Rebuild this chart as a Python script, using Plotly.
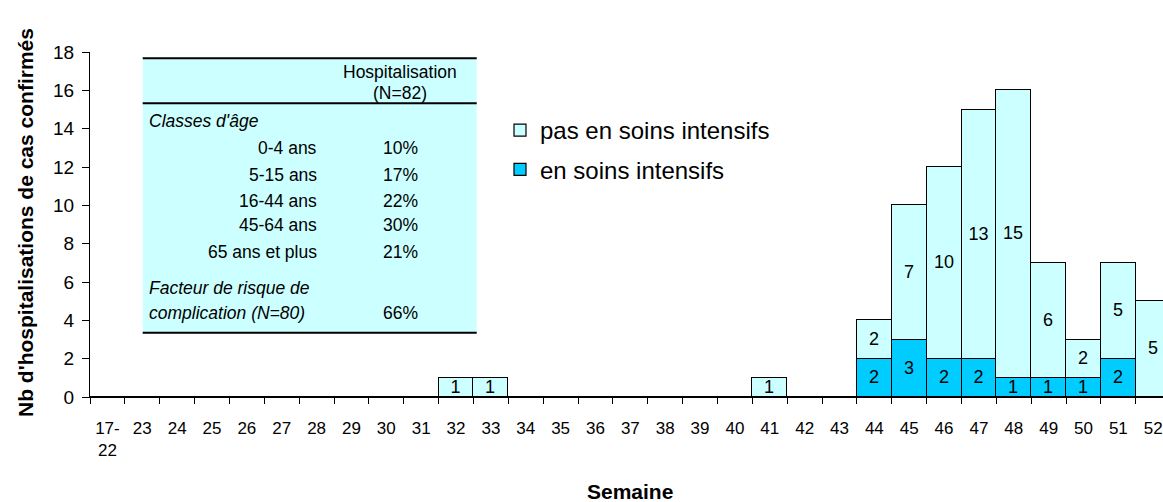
import plotly.graph_objects as go

# ---- data ----
weeks = ["17-<br>22"] + [str(w) for w in range(23, 53)]
soins_intensifs = {"44": 2, "45": 3, "46": 2, "47": 2, "48": 1, "49": 1, "50": 1, "51": 2}
pas_soins_intensifs = {"32": 1, "33": 1, "41": 1, "44": 2, "45": 7, "46": 10, "47": 13,
                       "48": 15, "49": 6, "50": 2, "51": 5, "52": 5}
si_values = [soins_intensifs.get(w, 0) for w in weeks]
psi_values = [pas_soins_intensifs.get(w, 0) for w in weeks]

age_classes = ["0-4 ans", "5-15 ans", "16-44 ans", "45-64 ans", "65 ans et plus"]
age_pct = ["10%", "17%", "22%", "30%", "21%"]
risk_label = ["Facteur de risque de", "complication (N=80)"]
risk_pct = "66%"

# ---- layout geometry (pixels) ----
W, H = 1163, 502
L, R, T, B = 90, 1163, 52, 397
PW, PH = R - L, B - T


def px_x(x):
    return (x - L) / PW


def px_y(y):
    return (B - y) / PH


FONT = "Liberation Sans, Arial, sans-serif"
LIGHT = "#CCFFFF"
DARK = "#00CCFF"

fig = go.Figure()
fig.add_trace(go.Bar(
    x=weeks, y=si_values, name="en soins intensifs",
    marker=dict(color=DARK, line=dict(color="black", width=1.2)),
    text=[str(v) if v else "" for v in si_values],
    textposition="inside", insidetextanchor="middle", textangle=0,
    textfont=dict(family=FONT, size=18, color="black"),
    legendgroup="b", legendrank=2, cliponaxis=True,
))
fig.add_trace(go.Bar(
    x=weeks, y=psi_values, name="pas en soins intensifs",
    marker=dict(color=LIGHT, line=dict(color="black", width=1.2)),
    text=[str(v) if v else "" for v in psi_values],
    textposition="inside", insidetextanchor="middle", textangle=0,
    textfont=dict(family=FONT, size=18, color="black"),
    legendgroup="a", legendrank=1, cliponaxis=True,
))

shapes = []
# table background and rules
tx0, tx1, ty0, ty1 = 142.7, 476.7, 58.3, 332.7
shapes.append(dict(type="rect", xref="paper", yref="paper",
                   x0=px_x(tx0), x1=px_x(tx1), y0=px_y(ty1), y1=px_y(ty0),
                   fillcolor=LIGHT, line=dict(width=0), layer="below"))
for yy in (ty0, 103.3, ty1):
    shapes.append(dict(type="line", xref="paper", yref="paper",
                       x0=px_x(tx0), x1=px_x(tx1), y0=px_y(yy), y1=px_y(yy),
                       line=dict(color="black", width=2)))

ann = []
tfont = dict(family=FONT, size=17.5, color="black")


def add_text(text, x, y, anchor="center", italic=False):
    txt = f"<i>{text}</i>" if italic else text
    ann.append(dict(text=txt, xref="paper", yref="paper", x=px_x(x), y=px_y(y),
                    xanchor=anchor, yanchor="middle", showarrow=False, font=tfont))


add_text("Hospitalisation", 400, 71.7)
add_text("(N=82)", 400, 93.3)
add_text("Classes d'âge", 147, 121, anchor="left", italic=True)
row_y = [147.7, 175, 200.7, 225, 251.7]
for lab, pct, yy in zip(age_classes, age_pct, row_y):
    add_text(lab, 319, yy, anchor="right")
    add_text(pct, 400, yy)
add_text(risk_label[0], 147, 288, anchor="left", italic=True)
add_text(risk_label[1], 147, 313, anchor="left", italic=True)
add_text(risk_pct, 400, 313)

# axis titles
ann.append(dict(text="<b>Nb d'hospitalisations de cas confirmés</b>", xref="paper", yref="paper",
                x=px_x(25), y=px_y(223), xanchor="center", yanchor="middle", textangle=-90,
                showarrow=False, font=dict(family=FONT, size=21, color="black")))
ann.append(dict(text="<b>Semaine</b>", xref="paper", yref="paper",
                x=px_x(630), y=px_y(492), xanchor="center", yanchor="middle",
                showarrow=False, font=dict(family=FONT, size=21, color="black")))

bar_w = 34.86
fig.update_layout(
    width=W, height=H,
    margin=dict(l=L, r=W - R, t=T, b=H - B, pad=0),
    paper_bgcolor="white", plot_bgcolor="white",
    barmode="stack", bargap=0,
    font=dict(family=FONT, color="black"),
    uniformtext=dict(minsize=18, mode="show"),
    showlegend=True,
    legend=dict(x=px_x(500), y=px_y(108), xanchor="left", yanchor="top",
                font=dict(family=FONT, size=24, color="black"),
                bgcolor="rgba(0,0,0,0)", tracegroupgap=5, traceorder="grouped"),
    xaxis=dict(type="category", range=[-0.5, -0.5 + PW / bar_w],
               showline=True, linecolor="black", linewidth=1.2,
               ticks="outside", ticklen=6, tickcolor="black", tickson="boundaries",
               tickfont=dict(family=FONT, size=17, color="black"),
               ticklabelstandoff=15,
               showgrid=False, zeroline=False, fixedrange=True),
    yaxis=dict(range=[0, 18], dtick=2, tick0=0,
               showline=True, linecolor="black", linewidth=1.2,
               ticks="outside", ticklen=7, tickcolor="black",
               tickfont=dict(family=FONT, size=19, color="black"),
               ticklabelstandoff=4,
               showgrid=False, zeroline=False, fixedrange=True),
    shapes=shapes, annotations=ann,
)

fig.write_html("out.html", config={"displayModeBar": False},
               post_script="document.body.style.margin='0';document.body.style.overflow='hidden';")
